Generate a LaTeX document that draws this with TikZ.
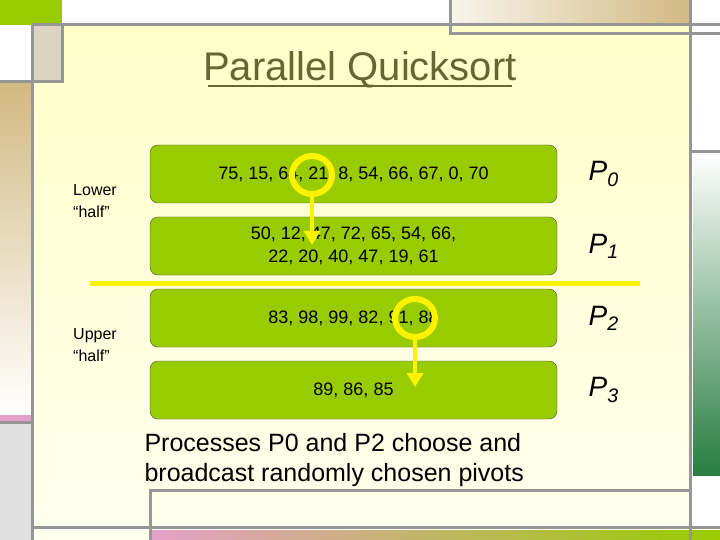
\documentclass[tikz,border=0pt]{standalone}
\usepackage{fontspec}
\setmainfont{Liberation Sans}
\usetikzlibrary{positioning,arrows.meta,shapes.geometric}
\definecolor{slidegreen}{RGB}{153,204,0}
\definecolor{paneyellow}{RGB}{255,255,200}
\definecolor{paneywhite}{RGB}{255,255,238}
\definecolor{tanbox}{RGB}{210,185,130}
\definecolor{framegray}{RGB}{150,150,150}
\definecolor{pinkbar}{RGB}{230,160,200}
\definecolor{olivetext}{RGB}{102,102,51}
\definecolor{darkgreen}{RGB}{40,125,65}
\tikzset{
  listbox/.style={draw=black!70,fill=slidegreen,rounded corners=8pt,minimum width=407pt,minimum height=58pt,align=center,font=\fontsize{18}{23}\selectfont},
  proclabel/.style={font=\fontsize{28}{30}\selectfont\itshape},
  halflabel/.style={align=left,font=\fontsize{16}{22}\selectfont},
  pivotring/.style={draw=yellow,line width=6pt,ellipse,minimum width=40pt,minimum height=38pt,inner sep=0pt},
  pivotarrow/.style={yellow,line width=4pt,-{Triangle[length=14pt,width=16pt]}},
  frameline/.style={framegray,line width=3pt}
}
\begin{document}
\begin{tikzpicture}[x=1pt,y=-1pt]
\useasboundingbox (0,0) rectangle (720,540);
% background panels
\fill[white] (0,0) rectangle (720,540);
\shade[top color=paneyellow,bottom color=paneywhite] (32,25) rectangle (690,527);
\fill[slidegreen] (0,0) rectangle (62,25);
\fill[black!20!tanbox!40!white] (32,25) rectangle (62,82);
\shade[top color=tanbox,bottom color=white] (0,82) rectangle (32,415);
\fill[pinkbar] (0,415) rectangle (32,422);
\fill[black!12] (0,422) rectangle (32,540);
\shade[left color=white!85!tanbox,right color=tanbox] (450,0) rectangle (690,23);
\shade[top color=white,bottom color=darkgreen] (693,152) rectangle (720,475);
\shade[left color=pinkbar,right color=slidegreen] (150,530) rectangle (720,540);
\fill[paneywhite] (32,530) rectangle (150,540);
% frame lines
\draw[frameline] (32,25) -- (32,540);
\draw[frameline] (32,25) -- (720,25);
\draw[frameline] (62,25) -- (62,82) -- (0,82);
\draw[frameline] (450,0) -- (450,34) -- (720,34);
\draw[frameline] (690,0) -- (690,540);
\draw[frameline] (690,152) -- (720,152);
\draw[frameline] (150,540) -- (150,490) -- (690,490);
\draw[frameline] (32,527) -- (720,527);
\draw[frameline] (0,422) -- (32,422);
% title
\node[text=olivetext,font=\fontsize{40}{42}\selectfont] (title) at (360,70) {Parallel Quicksort};
\draw[olivetext,line width=2.5pt] (title.south west) ++(8,-6) -- ([xshift=-8pt,yshift=6pt]title.south east);
% process lists
\node[listbox] (p0) at (353.5,174) {75, 15, 64, 21, 8, 54, 66, 67, 0, 70};
\node[listbox] (p1) at (353.5,246) {50, 12, 47, 72, 65, 54, 66,\\22, 20, 40, 47, 19, 61};
\node[listbox] (p2) at (353.5,318) {83, 98, 99, 82, 91, 88};
\node[listbox] (p3) at (353.5,390) {89, 86, 85};
\node[proclabel,right=28pt of p0] (l0) {P\textsubscript{0}};
\node[proclabel,right=28pt of p1] (l1) {P\textsubscript{1}};
\node[proclabel,right=28pt of p2] (l2) {P\textsubscript{2}};
\node[proclabel,right=28pt of p3] (l3) {P\textsubscript{3}};
% halves
\node[halflabel] (lower) at (95,201) {Lower\\“half”};
\node[halflabel] (upper) at (95,345) {Upper\\“half”};
\coordinate (cutL) at (90,283);
\coordinate (cutR) at (640,283);
\draw[yellow,line width=5pt] (cutL) -- (cutR);
% pivots
\node[pivotring] (ring0) at (312,175) {};
\node[pivotring] (ring2) at (415,318) {};
\coordinate (tip0) at (312,245);
\coordinate (tip2) at (415,387);
\draw[pivotarrow] (ring0.south) -- (tip0);
\draw[pivotarrow] (ring2.south) -- (tip2);
% caption
\node[align=left,anchor=north west,font=\fontsize{25}{30}\selectfont] (note) at (141,430) {Processes P0 and P2 choose and\\broadcast randomly chosen pivots};
\end{tikzpicture}
\end{document}
